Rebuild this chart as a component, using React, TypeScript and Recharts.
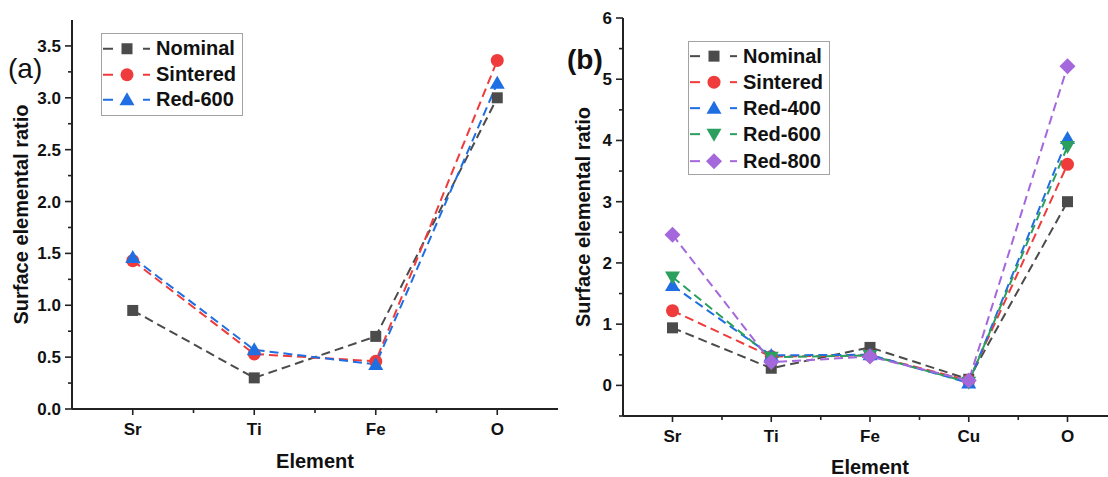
import React from 'react';
import { LineChart, Line, XAxis, YAxis, Legend, Label } from 'recharts';

// ---- panel (a) data ----
const elementsA = ['Sr', 'Ti', 'Fe', 'O'];
const nominalA = [0.95, 0.3, 0.7, 3.0];
const sinteredA = [1.43, 0.53, 0.46, 3.36];
const red600A = [1.46, 0.57, 0.43, 3.14];
const majorTicksA = [0, 0.5, 1, 1.5, 2, 2.5, 3, 3.5];
const allTicksA = [0, 0.25, 0.5, 0.75, 1, 1.25, 1.5, 1.75, 2, 2.25, 2.5, 2.75, 3, 3.25, 3.5];

// ---- panel (b) data ----
const elementsB = ['Sr', 'Ti', 'Fe', 'Cu', 'O'];
const nominalB = [0.94, 0.28, 0.62, 0.1, 3.0];
const sinteredB = [1.22, 0.47, 0.49, 0.08, 3.61];
const red400B = [1.63, 0.49, 0.5, 0.04, 4.03];
const red600B = [1.77, 0.46, 0.49, 0.05, 3.9];
const red800B = [2.46, 0.38, 0.47, 0.08, 5.21];
const majorTicksB = [0, 1, 2, 3, 4, 5, 6];
const allTicksB = [-0.5, 0, 0.5, 1, 1.5, 2, 2.5, 3, 3.5, 4, 4.5, 5, 5.5, 6];

const GRAY = '#4b4b4b';
const RED = '#ef3b3b';
const BLUE = '#1f6fe3';
const GREEN = '#2b9f5e';
const PURPLE = '#a468dc';
const AXIS = '#222';
const FONT = '"Liberation Sans", Arial, sans-serif';

type Shape = 'square' | 'circle' | 'triangle' | 'down' | 'diamond';
interface Series { key: string; color: string; shape: Shape }

const seriesA: Series[] = [
  { key: 'Nominal', color: GRAY, shape: 'square' },
  { key: 'Sintered', color: RED, shape: 'circle' },
  { key: 'Red-600', color: BLUE, shape: 'triangle' },
];
const seriesB: Series[] = [
  { key: 'Nominal', color: GRAY, shape: 'square' },
  { key: 'Sintered', color: RED, shape: 'circle' },
  { key: 'Red-400', color: BLUE, shape: 'triangle' },
  { key: 'Red-600', color: GREEN, shape: 'down' },
  { key: 'Red-800', color: PURPLE, shape: 'diamond' },
];

const dataA = elementsA.map((el, i) => ({
  element: el,
  Nominal: nominalA[i],
  Sintered: sinteredA[i],
  'Red-600': red600A[i],
}));
const dataB = elementsB.map((el, i) => ({
  element: el,
  Nominal: nominalB[i],
  Sintered: sinteredB[i],
  'Red-400': red400B[i],
  'Red-600': red600B[i],
  'Red-800': red800B[i],
}));

const Marker = ({ cx, cy, shape, color }: { cx: number; cy: number; shape: Shape; color: string }) => {
  switch (shape) {
    case 'square':
      return <rect x={cx - 5.5} y={cy - 5.5} width={11} height={11} fill={color} />;
    case 'circle':
      return <circle cx={cx} cy={cy} r={6.5} fill={color} />;
    case 'triangle':
      return <polygon points={`${cx},${cy - 7.5} ${cx + 7.5},${cy + 5.5} ${cx - 7.5},${cy + 5.5}`} fill={color} />;
    case 'down':
      return <polygon points={`${cx - 7.5},${cy - 5.5} ${cx + 7.5},${cy - 5.5} ${cx},${cy + 7.5}`} fill={color} />;
    default:
      return <polygon points={`${cx},${cy - 8} ${cx + 8},${cy} ${cx},${cy + 8} ${cx - 8},${cy}`} fill={color} />;
  }
};

const makeYTick = (majors: number[], digits: number) => (props: any) => {
  const { x, y, payload } = props;
  const v = payload.value;
  const major = majors.some((m) => Math.abs(m - v) < 1e-6);
  return (
    <g>
      <line x1={x} x2={x - (major ? 7 : 4)} y1={y} y2={y} stroke={AXIS} strokeWidth={1.6} />
      {major && (
        <text x={x - 11} y={y} dy={6} textAnchor="end" fontFamily={FONT} fontWeight="bold" fontSize={17} fill="#111">
          {v.toFixed(digits)}
        </text>
      )}
    </g>
  );
};

const makeXTick = (count: number, half: number) => (props: any) => {
  const { x, y, payload, index } = props;
  return (
    <g>
      <line x1={x} x2={x} y1={y} y2={y + 6} stroke={AXIS} strokeWidth={1.6} />
      {index < count - 1 && <line x1={x + half} x2={x + half} y1={y} y2={y + 4} stroke={AXIS} strokeWidth={1.6} />}
      <text x={x} y={y + 26} textAnchor="middle" fontFamily={FONT} fontWeight="bold" fontSize={17} fill="#111">
        {payload.value}
      </text>
    </g>
  );
};

const makeLegend = (series: Series[], rowH: number, pad: number) => () => (
  <div
    style={{
      border: '1px solid #a3a3a3',
      background: '#fff',
      padding: `${pad}px 6px ${pad}px 0`,
      fontFamily: FONT,
      fontWeight: 'bold',
      fontSize: 20,
      color: '#111',
    }}
  >
    {series.map((s) => (
      <div key={s.key} style={{ display: 'flex', alignItems: 'center', height: rowH }}>
        <svg width={52} height={rowH}>
          <line x1={1} x2={11} y1={rowH / 2} y2={rowH / 2} stroke={s.color} strokeWidth={2} />
          <line x1={41} x2={48} y1={rowH / 2} y2={rowH / 2} stroke={s.color} strokeWidth={2} />
          <Marker cx={25} cy={rowH / 2} shape={s.shape} color={s.color} />
        </svg>
        <span style={{ marginLeft: 2, lineHeight: `${rowH}px` }}>{s.key}</span>
      </div>
    ))}
  </div>
);

const renderLines = (series: Series[]) =>
  series.map((s) => (
    <Line
      key={s.key}
      xAxisId="main"
      yAxisId="main"
      type="linear"
      dataKey={s.key}
      name={s.key}
      stroke={s.color}
      strokeWidth={2}
      strokeDasharray="9 5"
      isAnimationActive={false}
      activeDot={false}
      dot={(p: any) =>
        p.cx == null ? (
          <g key={`${s.key}-${p.index}`} />
        ) : (
          <Marker key={`${s.key}-${p.index}`} cx={p.cx} cy={p.cy} shape={s.shape} color={s.color} />
        )
      }
    />
  ));

const titleStyle = { fontFamily: FONT, fontWeight: 'bold' as const, fontSize: 20, fill: '#111' };

const App = () => {
  return (
    <div
      style={{
        position: 'absolute',
        left: 0,
        top: 0,
        width: 1108,
        height: 477,
        overflow: 'hidden',
        background: '#fff',
      }}
    >
      {/* panel (a) */}
      <div style={{ position: 'absolute', left: 0, top: 0 }}>
        <LineChart width={570} height={477} data={dataA} margin={{ top: 20, right: 12, left: 0, bottom: 0 }}>
          <XAxis
            xAxisId="main"
            dataKey="element"
            height={68}
            padding={{ left: 60.75, right: 60.75 }}
            tickSize={0}
            tickMargin={0}
            tickLine={false}
            interval={0}
            axisLine={{ stroke: AXIS, strokeWidth: 2 }}
            tick={makeXTick(elementsA.length, 60.75)}
          >
            <Label value="Element" position="center" dy={18} style={titleStyle} />
          </XAxis>
          <XAxis xAxisId="top" orientation="top" dataKey="element" height={0} tick={false} tickLine={false} axisLine={{ stroke: AXIS, strokeWidth: 2 }} />
          <YAxis
            yAxisId="main"
            type="number"
            width={72}
            domain={[0, 3.75]}
            ticks={allTicksA}
            interval={0}
            allowDataOverflow
            tickSize={0}
            tickMargin={0}
            tickLine={false}
            axisLine={{ stroke: AXIS, strokeWidth: 2 }}
            tick={makeYTick(majorTicksA, 1)}
          >
            <Label value="Surface elemental ratio" angle={-90} position="center" dx={-15} style={titleStyle} />
          </YAxis>
          <YAxis yAxisId="right" orientation="right" type="number" width={0} domain={[0, 3.75]} tick={false} tickLine={false} axisLine={{ stroke: AXIS, strokeWidth: 2 }} />
          <Legend
            layout="vertical"
            align="center"
            verticalAlign="middle"
            wrapperStyle={{ left: 101, top: 33, width: 'auto' }}
            content={makeLegend(seriesA, 25.5, 2)}
          />
          {renderLines(seriesA)}
        </LineChart>
      </div>
      <div style={{ position: 'absolute', left: 8, top: 59, fontFamily: FONT, fontSize: 28, lineHeight: '20px', color: '#111' }}>
        (a)
      </div>

      {/* panel (b) */}
      <div style={{ position: 'absolute', left: 560, top: 0 }}>
        <LineChart width={570} height={477} data={dataB} margin={{ top: 18, right: 13, left: 0, bottom: 0 }}>
          <XAxis
            xAxisId="main"
            dataKey="element"
            height={61}
            padding={{ left: 49.5, right: 49.5 }}
            tickSize={0}
            tickMargin={0}
            tickLine={false}
            interval={0}
            axisLine={{ stroke: AXIS, strokeWidth: 2 }}
            tick={makeXTick(elementsB.length, 49.5)}
          >
            <Label value="Element" position="center" dy={20} style={titleStyle} />
          </XAxis>
          <XAxis xAxisId="top" orientation="top" dataKey="element" height={0} tick={false} tickLine={false} axisLine={{ stroke: AXIS, strokeWidth: 2.4 }} />
          <YAxis
            yAxisId="main"
            type="number"
            width={63}
            domain={[-0.5, 6]}
            ticks={allTicksB}
            interval={0}
            allowDataOverflow
            tickSize={0}
            tickMargin={0}
            tickLine={false}
            axisLine={{ stroke: AXIS, strokeWidth: 2 }}
            tick={makeYTick(majorTicksB, 0)}
          >
            <Label value="Surface elemental ratio" angle={-90} position="center" dx={-8.5} style={titleStyle} />
          </YAxis>
          <Legend
            layout="vertical"
            align="center"
            verticalAlign="middle"
            wrapperStyle={{ left: 128, top: 41, width: 'auto' }}
            content={makeLegend(seriesB, 26.3, 0.5)}
          />
          {renderLines(seriesB)}
        </LineChart>
      </div>
      <div style={{ position: 'absolute', left: 567, top: 45, fontFamily: FONT, fontWeight: 'bold', fontSize: 28, lineHeight: '30px', color: '#111' }}>
        (b)
      </div>
    </div>
  );
};

export default App;
